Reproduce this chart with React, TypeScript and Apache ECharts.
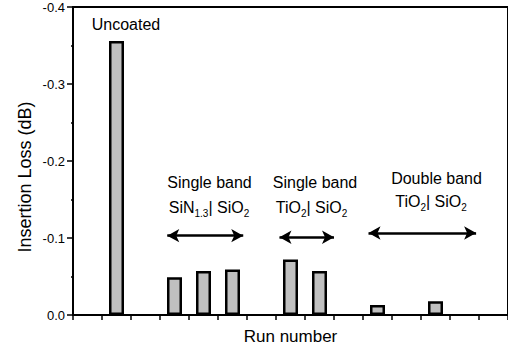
import React, { useEffect, useRef } from "react";
import * as echarts from "echarts";

// Run positions (x, in run-slot units) and insertion loss values (dB)
const runPositions = [1.5, 3.5, 4.5, 5.5, 7.5, 8.5, 10.5, 12.5];
const insertionLoss = [-0.356, -0.049, -0.057, -0.059, -0.072, -0.057, -0.013, -0.018];

// Double-headed arrows: [xStart, xEnd, y]
const arrowSpans = [
  [3.25, 5.87, -0.103],
  [7.12, 9.0, -0.101],
  [10.19, 13.9, -0.1065],
];

const yTicks = [0, -0.1, -0.2, -0.3, -0.4];

const FONT = "'Liberation Sans', Arial, Helvetica, sans-serif";

export default function App() {
  const ref = useRef<HTMLDivElement>(null);
  useEffect(() => {
    if (!ref.current) return;
    const chart = echarts.init(ref.current, undefined, { renderer: "svg" });
    const rich = {
      n: { fontSize: 16, lineHeight: 23, fontFamily: FONT, fill: "#000" },
      s: { fontSize: 10, lineHeight: 10, verticalAlign: "bottom", fontFamily: FONT, fill: "#000" },
    };
    const txt = (x: number, y: number, text: string, useRich = false) => ({
      type: "text",
      x,
      y,
      silent: true,
      style: {
        text,
        fontSize: 16,
        fontFamily: FONT,
        fill: "#000",
        align: "center",
        verticalAlign: "middle",
        ...(useRich ? { rich } : {}),
      },
    });
    chart.setOption({
      animation: false,
      backgroundColor: "#fff",
      grid: {
        left: 73,
        right: -6,
        top: 7,
        bottom: 33.5,
        show: true,
        borderColor: "#000",
        borderWidth: 2,
        backgroundColor: "transparent",
      },
      xAxis: {
        type: "value",
        min: 0,
        max: 15,
        interval: 1,
        name: "Run number",
        nameLocation: "middle",
        nameGap: 13,
        nameTextStyle: { fontSize: 17, fontFamily: FONT, color: "#000" },
        axisLine: { show: true, lineStyle: { color: "#000", width: 2 } },
        axisTick: { show: true, length: 5, lineStyle: { color: "#000", width: 1.5 } },
        axisLabel: { show: false },
        splitLine: { show: false },
      },
      yAxis: {
        type: "value",
        min: -0.4,
        max: 0,
        interval: 0.1,
        inverse: true,
        axisLine: { show: true, lineStyle: { color: "#000", width: 2 } },
        axisTick: { show: true, length: 6, lineStyle: { color: "#000", width: 1.5 } },
        minorTick: { show: true, splitNumber: 2, length: 2, lineStyle: { color: "#000", width: 1.5 } },
        axisLabel: {
          fontSize: 13,
          fontFamily: FONT,
          color: "#000",
          margin: 8,
          formatter: (v: number) => {
            const t = yTicks.find((k) => Math.abs(k - v) < 1e-9);
            return (t ?? v).toFixed(1);
          },
        },
        splitLine: { show: false },
      },
      series: [
        {
          type: "bar",
          barWidth: 15,
          data: runPositions.map((x, i) => [x, insertionLoss[i]]),
          itemStyle: { color: "#c0c0c0", borderColor: "#000", borderWidth: 2.5 },
          silent: true,
          markLine: {
            silent: true,
            symbol: ["arrow", "arrow"],
            symbolSize: [10, 12],
            label: { show: false },
            lineStyle: { color: "#000", width: 2.5, type: "solid" },
            data: arrowSpans.map(([a, b, y]) => [{ coord: [a, y] }, { coord: [b, y] }]),
          },
        },
      ],
      graphic: [
        {
          type: "text",
          x: 25,
          y: 177,
          rotation: Math.PI / 2,
          silent: true,
          style: {
            text: "Insertion Loss (dB)",
            fontSize: 18,
            fontFamily: FONT,
            fill: "#000",
            align: "center",
            verticalAlign: "middle",
          },
        },
        { ...txt(126, 24, "Uncoated") },
        { ...txt(209.5, 182, "Single band") },
        { ...txt(209, 207, "{n|SiN}{s|1.3}{n|| SiO}{s|2}", true) },
        { ...txt(315, 182, "Single band") },
        { ...txt(311.5, 207, "{n|TiO}{s|2}{n|| SiO}{s|2}", true) },
        { ...txt(436.5, 178, "Double band") },
        { ...txt(431, 201, "{n|TiO}{s|2}{n|| SiO}{s|2}", true) },
      ],
    });
    return () => chart.dispose();
  }, []);
  return (
    <div
      ref={ref}
      style={{ position: "fixed", left: 0, top: 0, width: 508, height: 350, background: "#fff" }}
    />
  );
}
